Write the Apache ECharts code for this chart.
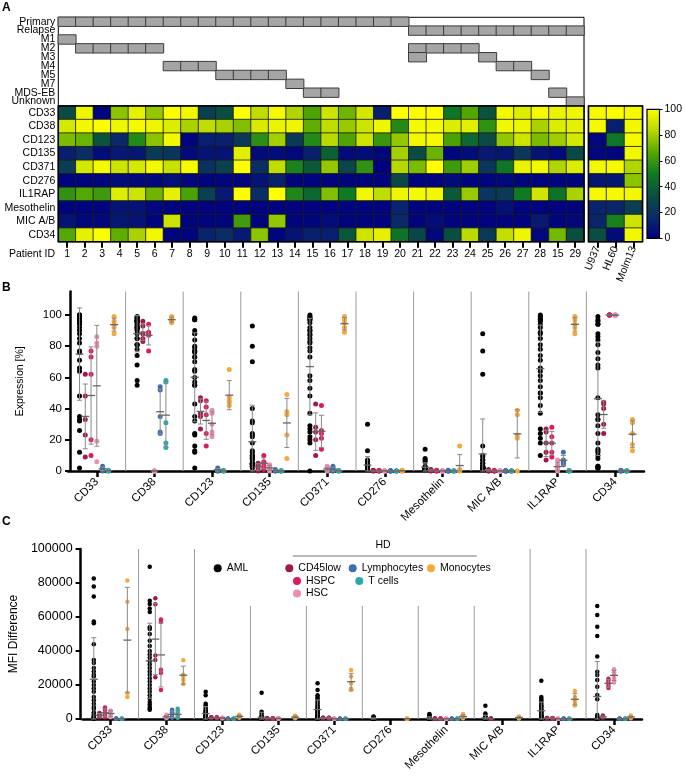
<!DOCTYPE html>
<html><head><meta charset="utf-8">
<script src="https://cdn.jsdelivr.net/npm/echarts@6/dist/echarts.min.js"></script>
<style>html,body{margin:0;padding:0;background:#fff}#c{width:685px;height:776px}</style>
</head><body><div id="c"></div>
<script>
const FONT = '"Liberation Sans", Arial, Helvetica, sans-serif';

// ---------------- Panel A data ----------------
const patientIds = ['1','2','3','4','5','6','7','8','9','10','11','12','13','14','15','16','17','18','19','20','21','22','23','24','25','26','27','28','15','29'];
const clinicalRows = ['Primary','Relapse','M1','M2','M3','M4','M5','M7','MDS-EB','Unknown'];
const sampleStatus = ['Primary','Primary','Primary','Primary','Primary','Primary','Primary','Primary','Primary','Primary','Primary','Primary','Primary','Primary','Primary','Primary','Primary','Primary','Primary','Primary','Relapse','Relapse','Relapse','Relapse','Relapse','Relapse','Relapse','Relapse','Relapse','Relapse'];
const sampleFAB = [['M1'],['M2'],['M2'],['M2'],['M2'],['M2'],['M4'],['M4'],['M4'],['M5'],['M5'],['M5'],['M5'],['M7'],['MDS-EB'],['MDS-EB'],[],[],[],[],['M2','M3'],['M2'],['M2'],['M2'],['M3'],['M4'],['M4'],['M5'],['MDS-EB'],['Unknown']];

const heatMarkers = ['CD33','CD38','CD123','CD135','CD371','CD276','IL1RAP','Mesothelin','MIC A/B','CD34'];
const amlCD33 = [32,96,2,76,94,77,99,97,26,33,100,85,98,82,64,88,71,90,12,100,99,100,48,66,35,97,92,98,95,96];
const amlCD38 = [90,97,99,96,98,96,92,81,85,81,74,91,95,96,68,85,78,88,96,55,98,98,92,93,58,97,96,81,92,94];
const amlCD123 = [73,70,35,16,55,76,97,2,12,13,23,57,80,24,55,84,65,88,60,77,97,98,64,43,32,77,88,73,79,90];
const amlCD135 = [12,18,5,10,9,24,22,4,8,7,93,4,5,3,13,40,4,5,3,80,32,70,2,5,10,9,23,8,4,31];
const amlCD371 = [25,90,98,88,90,97,87,98,20,27,99,18,85,53,37,77,29,58,0,83,73,100,61,79,22,48,95,97,82,92];
const amlCD276 = [2,2,2,5,3,3,6,3,2,2,2,7,13,2,2,1,2,2,2,30,1,1,4,2,2,3,2,2,2,2];
const amlIL1RAP = [58,66,61,92,88,71,94,64,27,10,99,18,100,54,42,74,50,97,85,96,98,97,37,78,21,24,50,89,47,81];
const amlMesothelin = [2,2,2,8,7,3,2,1,1,1,1,1,1,1,1,1,2,2,1,14,2,2,1,1,1,6,1,1,1,2];
const amlMICAB = [7,3,3,9,7,2,88,2,2,2,62,2,77,2,2,5,2,2,2,16,2,5,2,2,1,1,2,10,2,3];
const amlCD34 = [66,94,99,68,81,97,2,2,14,18,10,76,2,8,13,12,36,88,94,47,29,3,33,84,24,86,96,3,72,33];

const cellLines = ['U937','HL60','Molm13'];
// values in heatMarkers order
const lineU937 = [98,98,3,3,97,9,98,14,15,33];
const lineHL60 = [99,12,48,2,98,9,98,15,52,4];
const lineMolm13 = [98,97,98,97,82,76,97,25,88,97];
const exprTicks = [0,20,40,60,80,100];

// ---------------- Panel B / C data ----------------
const dotMarkers = ['CD33','CD38','CD123','CD135','CD371','CD276','Mesothelin','MIC A/B','IL1RAP','CD34'];
const groupNames = ['AML','CD45low','HSPC','HSC','Lymphocytes','T cells','Monocytes'];

// Expression [%] of healthy donor populations, dotMarkers order
const exprCD45low = [[62,48,33,23,9],[96,93,88,85,83],[47,45,37,35,27],[5,4,3,1,0],[43,28,25,20,10],[0.5,0.3,0.2,0.1,0],[1,0.5,0.3,0.2,0],[1,0.5,0.3,0,0],[27,25,18,12,7],[44,43,40,30,24]];
const exprHSPC = [[77,73,62,20,10],[94,89,88,87,77],[45,41,36,24,16],[10,6,5,3,1],[42,26,24,21,14],[0.3,0.2,0.1,0,0],[0.5,0.3,0.2,0,0],[0.3,0.2,0,0,0],[28,22,18,12,9],[100,100,100,100,100]];
const exprHSC = [[86,82,80,19,6],[0,0,0,0,0],[39,37,30,25,22],[4,3,2,1,0],[3,2,1,0.5,0],[0.2,0.1,0,0,0],[0.3,0.2,0,0,0],[0.2,0,0,0,0],[7,4,2,1,0],[100,100,100,100,99.5]];
const exprLymph = [[3,2,1,1,0],[54,52,35,25,24],[2,1,1,0,0],[1,0.5,0.3,0,0],[3,2,1,0,0],[0.3,0,0,0,0],[0.5,0.3,0,0,0],[0.3,0,0,0,0],[12,7,6,5,4],[0.5,0.3,0,0,0]];
const exprTcells = [[0.5,0.3,0.2,0,0],[58,57,31,18,15],[0.3,0.2,0,0,0],[0.2,0,0,0,0],[0.3,0.1,0,0,0],[0,0,0,0,0],[0.2,0,0,0,0],[0,0,0,0,0],[0.3,0.2,0,0,0],[0.2,0,0,0,0]];
const exprMono = [[99,96,94,92,88],[99,98,97,96,95],[65,47,45,44,42],[49,38,36,23,8],[99,97,95,92,89],[0.5,0.3,0,0,0],[16,1,0.5,0,0],[39,36,23,21,0],[99,97,94,92,88],[33,31,24,17,13]];

// MFI difference, dotMarkers order
const mfiAML = [
  [82600,77900,72000,57300,56300,44000,34700,33000,30000,28000,26000,25000,22000,20000,18000,16000,13000,11000,9000,7000,6000,4000,3000,2000,1500,1000,800,500,300,200],
  [89600,69600,67600,65000,63000,54000,53000,50000,46000,43000,40000,38000,36000,34000,32000,30000,28000,26000,24000,22000,20000,18000,16000,14000,12000,10000,8500,7000,6000,5500],
  [16000,14000,9000,8000,7000,6000,5000,4500,4000,3500,3000,2500,2000,2000,1500,1500,1000,1000,800,600,500,400,300,300,200,200,100,100,100,100],
  [15500,4200,3500,2000,1500,1000,800,600,500,400,300,300,200,200,200,100,100,100,100,100,100,100,100,100,100,100,100,100,100,100],
  [21000,17000,14000,13000,12000,11000,10000,9000,8000,7000,6500,6000,5000,4500,4000,3500,3000,2500,2000,2000,1500,1000,1000,800,600,500,400,300,200,100],
  [1500,1200,1000,800,600,500,400,300,300,200,200,200,100,100,100,100,100,100,100,100,100,100,100,100,100,100,100,100,100,100],
  [3000,2500,2000,1500,1000,800,600,500,400,300,300,200,200,200,100,100,100,100,100,100,100,100,100,100,100,100,100,100,100,100],
  [7800,3300,2500,1500,1000,800,600,500,400,300,300,200,200,200,100,100,100,100,100,100,100,100,100,100,100,100,100,100,100,100],
  [22500,13000,12000,11000,10000,9000,8000,7500,7000,6000,5500,5000,4500,4000,3500,3000,2500,2000,2000,1500,1500,1000,1000,800,600,500,400,300,200,100],
  [66500,61200,54300,48800,36700,27800,25900,22900,19000,14100,11600,2400,1400,1000,800,600,500,400,300,200,200,100,100,100,100,100,100,100,100,100]
];
const mfiCD45low = [[3500,2800,2200,1500,1000],[71000,67500,37300,34700,24500],[1000,900,800,700,600],[400,300,300,200,200],[800,700,600,500,400],null,[300,200,200,100,100],[300,200,200,100,100],[600,500,400,300,200],[2000,1500,1200,1000,800]];
const mfiHSPC = [[6700,5300,3300,2000,1000],[58500,57000,29000,27000,17000],[1000,900,800,700,600],[500,400,300,300,200],[800,700,600,500,400],null,[300,200,200,100,100],null,[600,500,400,300,200],[23700,22500,21000,19500,18200]];
const mfiHSC = [[5000,4500,3500,2000,1000],[2500,1500,1000,800,500],[800,700,600,500,400],[500,400,300,300,200],[300,200,200,100,100],null,[300,200,200,100,100],null,[300,200,200,100,100],[29200,27500,26000,24000,21500]];
const mfiLymph = [[300,200,200,100,100],[5500,4000,2500,1000,800],[200,200,100,100,100],null,[200,200,100,100,100],null,[200,200,100,100,100],null,[200,200,100,100,100],[200,200,100,100,100]];
const mfiTcells = [[200,200,100,100,100],[6000,4000,2000,1000,800],[200,200,100,100,100],null,[200,200,100,100,100],null,[200,200,100,100,100],null,[200,200,100,100,100],[200,200,100,100,100]];
const mfiMono = [[81500,69000,53000,15500,13000],[34500,26000,25000,22900,20600],[2500,2000,1500,1000,800],[2000,1500,1000,800,500],[28800,25000,21000,18000,17000],[300,200,200,100,100],[3000,2000,1000,800,500],[1500,1000,800,500,300],[16500,13000,11000,9500,8000],[2000,1500,1000,800,500]];

// ---------------- styles / layout ----------------
const groupColors = ['#000000','#a3184c','#d81c5c','#ef8cb1','#3f6eb1','#2ba9aa','#f8a83a'];
const groupOffsets = [-0.3,-0.2,-0.1,0,0.1,0.2,0.3];
const heatColors = ['#000080','#0b2a68','#0a4f40','#0e7b22','#56a900','#b8d900','#ffff00'];
const sepTopB = [115,115,115,115,115,115,115,115,115];
const sepTopC = [100000,100000,66500,66500,66500,66500,66500,100000,100000];

// ---------------- build ----------------
const amlExpr = {'CD33':amlCD33,'CD38':amlCD38,'CD123':amlCD123,'CD135':amlCD135,'CD371':amlCD371,'CD276':amlCD276,'IL1RAP':amlIL1RAP,'Mesothelin':amlMesothelin,'MIC A/B':amlMICAB,'CD34':amlCD34};
const hdExpr = [exprCD45low, exprHSPC, exprHSC, exprLymph, exprTcells, exprMono];
const hdMfi = [mfiCD45low, mfiHSPC, mfiHSC, mfiLymph, mfiTcells, mfiMono];

const annotData = [];
sampleStatus.forEach((s, c) => annotData.push([c, clinicalRows.indexOf(s), 1]));
sampleFAB.forEach((tags, c) => tags.forEach(t => annotData.push([c, clinicalRows.indexOf(t), 1])));

const heatData = [];
heatMarkers.forEach((m, r) => amlExpr[m].forEach((v, c) => heatData.push([c, r, v])));
const lineData = [];
[lineU937, lineHL60, lineMolm13].forEach((arr, ci) => arr.forEach((v, r) => lineData.push([ci, r, v])));

function mean(a){ return a.reduce((s,v)=>s+v,0)/a.length; }
function sd(a){ const m = mean(a); return Math.sqrt(a.reduce((s,v)=>s+(v-m)*(v-m),0)/(a.length-1)); }

function groupValues(panel, gi, ci) {
  if (panel === 'B') return gi === 0 ? amlExpr[dotMarkers[ci]] : hdExpr[gi-1][ci];
  return gi === 0 ? mfiAML[ci] : hdMfi[gi-1][ci];
}

function scatterSeries(panel, xi, yi, size) {
  return groupNames.map((g, gi) => {
    const data = [];
    dotMarkers.forEach((m, ci) => {
      const vals = groupValues(panel, gi, ci);
      if (vals) vals.forEach(v => data.push([ci + groupOffsets[gi], v]));
    });
    return {type:'scatter', name:g, xAxisIndex:xi, yAxisIndex:yi, data, symbolSize:size,
      itemStyle:{color:groupColors[gi], opacity:1}, z:3, silent:true};
  });
}
function errData(panel) {
  const out = [];
  groupNames.forEach((g, gi) => dotMarkers.forEach((m, ci) => {
    const vals = groupValues(panel, gi, ci);
    if (vals && vals.length > 1) out.push([ci + groupOffsets[gi], mean(vals), sd(vals)]);
  }));
  return out;
}
function errRender(params, api) {
  const x = api.value(0), m = api.value(1), s = api.value(2);
  const pc = api.coord([x, m]);
  const pl = api.coord([x, Math.max(0, m - s)]);
  const ph = api.coord([x, m + s]);
  const st = {stroke:'#8a8a8a', lineWidth:1};
  return {type:'group', children:[
    {type:'line', shape:{x1:pc[0], y1:pl[1], x2:pc[0], y2:ph[1]}, style:st},
    {type:'line', shape:{x1:pc[0]-2.5, y1:ph[1], x2:pc[0]+2.5, y2:ph[1]}, style:st},
    {type:'line', shape:{x1:pc[0]-2.5, y1:pl[1], x2:pc[0]+2.5, y2:pl[1]}, style:st},
    {type:'line', shape:{x1:pc[0]-4, y1:pc[1], x2:pc[0]+4, y2:pc[1]}, style:{stroke:'#666', lineWidth:1.3}}
  ]};
}
function sepRender(params, api) {
  const b = api.value(0), top = api.value(1);
  const p0 = api.coord([b, 0]), p1 = api.coord([b, top]);
  return {type:'line', shape:{x1:p0[0], y1:p0[1], x2:p1[0], y2:p1[1]}, style:{stroke:'#9c9c9c', lineWidth:1}};
}
const sepDataB = sepTopB.map((t, i) => [i + 0.5, t]);
const sepDataC = sepTopC.map((t, i) => [i + 0.5, t]);

const stops = heatColors.map((c, i) => ({offset: i/(heatColors.length-1), color: c}));

const txt = {color:'#000', fontFamily:FONT};
const catHeatAxis = (gi, data, extra) => Object.assign({type:'category', gridIndex:gi, data,
  axisLine:{show:false}, splitLine:{show:false}}, extra);

const option = {
  animation:false,
  textStyle:{fontFamily:FONT, color:'#000'},
  grid:[
    {left:58.3, top:17.3, width:525.7, height:88.7, show:true, borderColor:'#000', borderWidth:1, backgroundColor:'#fff'},
    {left:58.3, top:106, width:525.7, height:135.7, show:true, borderColor:'#000', borderWidth:1.5, backgroundColor:'transparent', z:5},
    {left:588.5, top:106, width:54, height:135.7, show:true, borderColor:'#000', borderWidth:1.5, backgroundColor:'transparent', z:5},
    {left:647, top:109.3, width:15, height:129},
    {left:68, top:291.6, width:576, height:179.4},
    {left:72, top:549, width:570, height:170}
  ],
  xAxis:[
    catHeatAxis(0, patientIds, {show:false}),
    catHeatAxis(1, patientIds, {position:'bottom', axisTick:{show:true, alignWithLabel:true, length:6, lineStyle:{color:'#000', width:2}},
      axisLabel:Object.assign({fontSize:10.5, margin:7, interval:0}, txt)}),
    catHeatAxis(2, cellLines, {position:'bottom', axisTick:{show:true, alignWithLabel:true, length:6, lineStyle:{color:'#000', width:2}},
      axisLabel:Object.assign({fontSize:10.5, margin:5, rotate:68, interval:0}, txt)}),
    {type:'value', gridIndex:3, min:0, max:1, show:false},
    {type:'value', gridIndex:4, min:-0.5, max:9.5, show:false},
    {type:'category', gridIndex:4, data:dotMarkers, position:'bottom',
      axisLine:{show:true, onZero:false, lineStyle:{color:'#000', width:2.5}},
      axisTick:{show:true, alignWithLabel:true, length:6, lineStyle:{color:'#000', width:2.5}},
      axisLabel:Object.assign({fontSize:11.5, rotate:45, margin:9, interval:0}, txt), splitLine:{show:false}},
    {type:'value', gridIndex:5, min:-0.5, max:9.5, show:false},
    {type:'category', gridIndex:5, data:dotMarkers, position:'bottom',
      axisLine:{show:true, onZero:false, lineStyle:{color:'#000', width:2.5}},
      axisTick:{show:true, alignWithLabel:true, length:6, lineStyle:{color:'#000', width:2.5}},
      axisLabel:Object.assign({fontSize:11.5, rotate:45, margin:9, interval:0}, txt), splitLine:{show:false}}
  ],
  yAxis:[
    catHeatAxis(0, clinicalRows, {inverse:true, axisTick:{show:false}, axisLabel:Object.assign({fontSize:10.5, margin:3, interval:0, lineHeight:9}, txt)}),
    catHeatAxis(1, heatMarkers, {inverse:true, axisTick:{show:false}, axisLabel:Object.assign({fontSize:10.5, margin:3, interval:0}, txt)}),
    catHeatAxis(2, heatMarkers, {inverse:true, axisTick:{show:false}, axisLabel:{show:false}}),
    {type:'value', gridIndex:3, min:0, max:100, interval:20, position:'right',
      axisLine:{show:false, onZero:false}, splitLine:{show:false},
      axisTick:{show:true, length:3, lineStyle:{color:'#000', width:1}},
      axisLabel:Object.assign({fontSize:10.5, margin:5}, txt)},
    {type:'value', gridIndex:4, min:0, max:115, interval:20, offset:-2, position:'left',
      name:'Expression [%]', nameLocation:'middle', nameGap:44, nameRotate:90,
      nameTextStyle:Object.assign({fontSize:10.5}, txt),
      axisLine:{show:true, onZero:false, lineStyle:{color:'#000', width:2.5}},
      axisTick:{show:true, length:5, customValues:exprTicks, lineStyle:{color:'#000', width:2}},
      axisLabel:Object.assign({fontSize:11.5, margin:8, customValues:exprTicks}, txt),
      splitLine:{show:false}},
    {type:'value', gridIndex:5, min:0, max:100000, interval:20000, offset:2, position:'left',
      name:'MFI Difference', nameLocation:'middle', nameGap:46, nameRotate:90,
      nameTextStyle:Object.assign({fontSize:12}, txt),
      axisLine:{show:true, onZero:false, lineStyle:{color:'#000', width:2.5}},
      axisTick:{show:true, length:5, lineStyle:{color:'#000', width:2}},
      axisLabel:Object.assign({fontSize:12.5, margin:8, formatter:(v) => String(v)}, txt),
      splitLine:{show:false}}
  ],
  visualMap:[{type:'continuous', show:false, min:0, max:100, seriesIndex:[1,2], inRange:{color:heatColors}}],
  legend:[
    {data:['AML'], left:213.7, top:562},
    {data:['CD45low'], left:285.3, top:562},
    {data:['HSPC','HSC'], left:293, top:574.8, orient:'vertical'},
    {data:['Lymphocytes'], left:348.7, top:562},
    {data:['T cells'], left:355.3, top:574.8},
    {data:['Monocytes'], left:427, top:562}
  ].map(l => Object.assign({icon:'circle', itemWidth:8, itemHeight:8, itemGap:0, padding:0, textGap:5,
      selectedMode:false, textStyle:{fontSize:10.5, color:'#000', fontFamily:FONT, lineHeight:12.5}}, l)),
  graphic:[
    {type:'text', x:2, y:2, style:{text:'A', font:'bold 12px '+FONT, fill:'#000'}},
    {type:'text', x:2, y:282, style:{text:'B', font:'bold 12px '+FONT, fill:'#000'}},
    {type:'text', x:2, y:516, style:{text:'C', font:'bold 12px '+FONT, fill:'#000'}},
    {type:'text', x:55, y:254, style:{text:'Patient ID', font:'10.5px '+FONT, fill:'#000', textAlign:'right', textVerticalAlign:'middle'}},
    {type:'text', x:383, y:545, style:{text:'HD', font:'10.5px '+FONT, fill:'#000', textAlign:'center', textVerticalAlign:'middle'}},
    {type:'line', shape:{x1:292.7, y1:556, x2:476.7, y2:556}, style:{stroke:'#777', lineWidth:1}}
  ],
  series:[
    {type:'heatmap', xAxisIndex:0, yAxisIndex:0, data:annotData, silent:true,
      itemStyle:{color:'#a5a5a5', borderColor:'#3c3c3c', borderWidth:1}},
    {type:'heatmap', xAxisIndex:1, yAxisIndex:1, data:heatData, silent:true,
      itemStyle:{borderColor:'#1a1a1a', borderWidth:0.8}},
    {type:'heatmap', xAxisIndex:2, yAxisIndex:2, data:lineData, silent:true,
      itemStyle:{borderColor:'#1a1a1a', borderWidth:0.8}},
    {type:'custom', xAxisIndex:3, yAxisIndex:3, data:[[0,0]], silent:true,
      renderItem:(params, api) => {
        const p0 = api.coord([0,0]), p1 = api.coord([1,100]);
        return {type:'rect', shape:{x:p0[0], y:p1[1], width:p1[0]-p0[0], height:p0[1]-p1[1]},
          style:{fill:new echarts.graphic.LinearGradient(0,1,0,0,stops), stroke:'#000', lineWidth:1.2}};
      }},
    {type:'custom', xAxisIndex:4, yAxisIndex:4, data:sepDataB, renderItem:sepRender, silent:true, z:1},
    {type:'custom', xAxisIndex:6, yAxisIndex:5, data:sepDataC, renderItem:sepRender, silent:true, z:1},
    ...scatterSeries('B', 4, 4, 5),
    ...scatterSeries('C', 6, 5, 4.5),
    {type:'custom', xAxisIndex:4, yAxisIndex:4, data:errData('B'), renderItem:errRender, silent:true, z:4},
    {type:'custom', xAxisIndex:6, yAxisIndex:5, data:errData('C'), renderItem:errRender, silent:true, z:4}
  ]
};
const chart = echarts.init(document.getElementById('c'));
chart.setOption(option);
</script></body></html>
